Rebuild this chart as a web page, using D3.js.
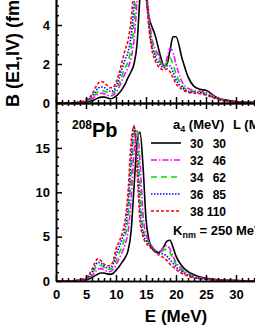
<!DOCTYPE html>
<html>
<head>
<meta charset="utf-8">
<script src="https://cdn.jsdelivr.net/npm/d3@7"></script>
<style>
body { margin: 0; background: #fff; }
svg { display: block; font-family: "Liberation Sans", Arial, sans-serif; font-weight: bold; }
</style>
</head>
<body>
<div id="chart"></div>
<script>
// excitation energy grid (MeV), shared by every curve
var energy = [0, 3, 5, 6, 6.5, 7, 7.5, 8, 8.5, 9,
              9.5, 10, 10.5, 11, 11.5, 12, 12.5, 13, 13.5, 14,
              14.5, 15, 15.5, 16, 16.5, 17, 17.5, 18, 18.5, 19,
              19.5, 20, 21, 22, 23, 24, 25, 27, 30, 33, 36];

// legend values
var a4Values = [30, 32, 34, 36, 38];
var lValues = [30, 46, 62, 85, 110];

// upper panel (nucleus label cut off)
var top30 = [0, 0.01, 0.05, 0.12, 0.18, 0.25, 0.3, 0.3, 0.27, 0.22,
             0.25, 0.35, 0.5, 0.7, 0.95, 1.3, 1.6, 2.0, 3.0, 5.5,
             7.5, 5.5, 4.4, 3.9, 3.5, 2.9, 2.3, 1.9, 2.0, 2.7,
             3.4, 3.4, 2.3, 1.35, 0.85, 0.7, 0.65, 0.25, 0.08, 0.03, 0.01];
var top32 = [0, 0.01, 0.08, 0.22, 0.33, 0.45, 0.5, 0.48, 0.42, 0.37,
             0.4, 0.55, 0.8, 1.15, 1.5, 1.8, 2.3, 3.2, 5.2, 7.5,
             7.8, 6.3, 4.5, 3.3, 2.8, 2.5, 2.1, 1.9, 2.3, 2.8,
             2.6, 2.0, 1.1, 0.75, 0.65, 0.6, 0.55, 0.24, 0.07, 0.02, 0.01];
var top34 = [0, 0.01, 0.1, 0.28, 0.42, 0.58, 0.65, 0.62, 0.55, 0.48,
             0.5, 0.7, 1.0, 1.4, 1.8, 2.1, 2.8, 4.0, 6.2, 7.8,
             7.6, 6.0, 4.2, 3.1, 2.6, 2.3, 2.0, 1.85, 2.1, 2.3,
             2.0, 1.5, 0.9, 0.65, 0.6, 0.56, 0.5, 0.22, 0.06, 0.02, 0.01];
var top36 = [0, 0.015, 0.12, 0.35, 0.55, 0.75, 0.82, 0.8, 0.7, 0.6,
             0.62, 0.85, 1.25, 1.75, 2.2, 2.6, 3.4, 5.0, 7.0, 7.8,
             7.3, 5.8, 4.0, 2.9, 2.4, 2.1, 1.9, 1.8, 1.9, 1.9,
             1.6, 1.2, 0.8, 0.6, 0.55, 0.52, 0.45, 0.2, 0.06, 0.02, 0.01];
var top38 = [0, 0.02, 0.15, 0.45, 0.75, 1.0, 1.1, 1.05, 0.9, 0.78,
             0.8, 1.05, 1.5, 2.1, 2.7, 3.2, 4.2, 6.0, 7.5, 7.8,
             7.0, 5.6, 3.8, 2.7, 2.2, 1.9, 1.75, 1.7, 1.75, 1.6,
             1.3, 1.0, 0.7, 0.55, 0.5, 0.48, 0.4, 0.18, 0.05, 0.02, 0.01];

// lower panel, 208Pb
var pb30 = [0, 0.02, 0.15, 0.4, 0.6, 0.8, 0.9, 0.9, 0.8, 0.75,
            0.85, 1.2, 1.6, 2.1, 2.6, 3.4, 5.5, 10.5, 15.5, 16.8,
            13, 7, 4.6, 3.7, 3.3, 3.2, 3.4, 3.9, 4.5, 4.6,
            3.8, 2.8, 1.7, 1.05, 0.7, 0.45, 0.3, 0.15, 0.06, 0.03, 0.01];
var pb32 = [0, 0.03, 0.2, 0.6, 1.0, 1.35, 1.4, 1.25, 1.1, 1.05,
            1.3, 1.8, 2.5, 3.2, 4.1, 5.5, 9.0, 14.5, 17.0, 13.5,
            7.5, 5.2, 4.5, 3.9, 3.5, 3.3, 3.4, 3.8, 4.0, 3.6,
            2.8, 2.1, 1.35, 0.85, 0.55, 0.36, 0.25, 0.12, 0.05, 0.02, 0.01];
var pb34 = [0, 0.03, 0.25, 0.8, 1.4, 1.75, 1.75, 1.5, 1.3, 1.3,
            1.6, 2.3, 3.1, 3.9, 5.0, 7.0, 11.5, 16.5, 17.2, 10.5,
            6.0, 4.8, 4.3, 3.8, 3.5, 3.3, 3.3, 3.5, 3.6, 3.2,
            2.5, 1.9, 1.2, 0.75, 0.48, 0.32, 0.22, 0.11, 0.05, 0.02, 0.01];
var pb36 = [0, 0.04, 0.3, 1.0, 1.7, 2.1, 2.0, 1.7, 1.5, 1.5,
            1.9, 2.9, 3.8, 4.7, 5.8, 8.5, 13.5, 17.4, 14.5, 8.0,
            5.4, 4.6, 4.1, 3.7, 3.4, 3.2, 3.1, 3.0, 2.8, 2.4,
            2.0, 1.6, 1.05, 0.65, 0.42, 0.28, 0.2, 0.1, 0.04, 0.02, 0.01];
var pb38 = [0, 0.05, 0.4, 1.3, 2.1, 2.5, 2.3, 1.9, 1.7, 1.75,
            2.2, 3.6, 4.4, 5.3, 6.8, 10, 15.5, 17.5, 12.5, 6.8,
            5.0, 4.3, 3.9, 3.6, 3.3, 3.0, 2.8, 2.6, 2.3, 1.9,
            1.6, 1.3, 0.85, 0.55, 0.35, 0.25, 0.18, 0.1, 0.04, 0.02, 0.01];

var topSeries = [top30, top32, top34, top36, top38];
var pbSeries = [pb30, pb32, pb34, pb36, pb38];

var colors = ["#000000", "#ff00ff", "#00e000", "#0000ff", "#ff0000"];
var dashes = [null, "6,2,1.5,2", "6,4", "1.5,1.5", "3,2"];

var width = 255, height = 330;

var svg = d3.select("#chart").append("svg")
    .attr("width", width)
    .attr("height", height);

var x = d3.scaleLinear().domain([0, 40]).range([56, 296]);
var yTop = d3.scaleLinear().domain([0, 9]).range([103, 103 - 9 * 19.5]);
var yPb = d3.scaleLinear().domain([0, 20]).range([281, 103.6]);

// clip regions for each panel
var defs = svg.append("defs");
defs.append("clipPath").attr("id", "clipTop").append("rect")
    .attr("x", 56).attr("y", -80).attr("width", 240).attr("height", 183);
defs.append("clipPath").attr("id", "clipPb").append("rect")
    .attr("x", 56).attr("y", 103).attr("width", 240).attr("height", 178);

function drawCurves(series, yScale, clipId) {
    var line = d3.line()
        .x(function(d) { return x(d[0]); })
        .y(function(d) { return yScale(d[1]); })
        .curve(d3.curveMonotoneX);
    var g = svg.append("g").attr("clip-path", "url(#" + clipId + ")");
    series.forEach(function(vals, i) {
        var pts = energy.map(function(e, k) { return [e, vals[k]]; });
        g.append("path")
            .attr("d", line(pts))
            .attr("fill", "none")
            .attr("stroke", colors[i])
            .attr("stroke-width", 1.6)
            .attr("stroke-dasharray", dashes[i]);
    });
}

drawCurves(topSeries, yTop, "clipTop");
drawCurves(pbSeries, yPb, "clipPb");

// axes
function styleAxis(g) {
    g.selectAll("path, line").attr("stroke", "#000").attr("stroke-width", 1.5);
    g.selectAll("text").attr("font-size", 13).attr("font-weight", "bold")
        .attr("font-family", "Liberation Sans, Arial, sans-serif").attr("fill", "#000");
}

var majorX = d3.range(0, 41, 5);
var minorX = d3.range(0, 41, 1).filter(function(v) { return v % 5 != 0; });

// bottom x axis
svg.append("g").attr("transform", "translate(0,281)")
    .call(d3.axisBottom(x).tickValues(majorX).tickSize(-6).tickSizeOuter(0).tickPadding(9))
    .call(styleAxis);
svg.append("g").attr("transform", "translate(0,281)")
    .call(d3.axisBottom(x).tickValues(minorX).tickSize(-3).tickSizeOuter(0).tickFormat(""))
    .call(styleAxis);

// middle shared axis, ticks on both sides
svg.append("g").attr("transform", "translate(0,103)")
    .call(d3.axisBottom(x).tickValues(majorX).tickSize(-6).tickSizeOuter(0).tickFormat(""))
    .call(styleAxis);
svg.append("g").attr("transform", "translate(0,103)")
    .call(d3.axisTop(x).tickValues(majorX).tickSize(-6).tickSizeOuter(0).tickFormat(""))
    .call(styleAxis);
svg.append("g").attr("transform", "translate(0,103)")
    .call(d3.axisBottom(x).tickValues(minorX).tickSize(-3).tickSizeOuter(0).tickFormat(""))
    .call(styleAxis);
svg.append("g").attr("transform", "translate(0,103)")
    .call(d3.axisTop(x).tickValues(minorX).tickSize(-3).tickSizeOuter(0).tickFormat(""))
    .call(styleAxis);

// left axis, upper panel
svg.append("g").attr("transform", "translate(56,0)")
    .call(d3.axisLeft(yTop).tickValues([0, 2, 4]).tickSize(-6).tickSizeOuter(0).tickPadding(6))
    .call(styleAxis);
svg.append("g").attr("transform", "translate(56,0)")
    .call(d3.axisLeft(yTop).tickValues([6, 8]).tickSize(-6).tickSizeOuter(0).tickFormat(""))
    .call(styleAxis);
svg.append("g").attr("transform", "translate(56,0)")
    .call(d3.axisLeft(yTop).tickValues(d3.range(0.5, 9, 0.5).filter(function(v) { return v % 2 != 0; }))
        .tickSize(-3).tickSizeOuter(0).tickFormat(""))
    .call(styleAxis);

// left axis, lower panel
svg.append("g").attr("transform", "translate(56,0)")
    .call(d3.axisLeft(yPb).tickValues([0, 5, 10, 15]).tickSize(-6).tickSizeOuter(0).tickPadding(6))
    .call(styleAxis);
svg.append("g").attr("transform", "translate(56,0)")
    .call(d3.axisLeft(yPb).tickValues(d3.range(1, 20, 1).filter(function(v) { return v % 5 != 0; }))
        .tickSize(-3).tickSizeOuter(0).tickFormat(""))
    .call(styleAxis);

// axis titles
svg.append("text")
    .attr("transform", "translate(19,107) rotate(-90)")
    .attr("font-size", 18)
    .text("B (E1,IV) (fm\u00B2/MeV)");

svg.append("text")
    .attr("x", 176).attr("y", 322)
    .attr("text-anchor", "middle")
    .attr("font-size", 17)
    .text("E (MeV)");

// nucleus label
var pbLabel = svg.append("text").attr("x", 72).attr("y", 137);
pbLabel.append("tspan").attr("font-size", 12).attr("dy", -8).text("208");
pbLabel.append("tspan").attr("font-size", 20).attr("dy", 8).text("Pb");

// legend
var legend = svg.append("g");
var hdr = legend.append("text").attr("x", 173).attr("y", 129).attr("font-size", 13);
hdr.append("tspan").text("a");
hdr.append("tspan").attr("font-size", 9).attr("dy", 3).text("4");
hdr.append("tspan").attr("dy", -3).text(" (MeV)");
legend.append("text").attr("x", 233).attr("y", 129).attr("font-size", 13).text("L (MeV)");

a4Values.forEach(function(a, i) {
    var yy = 143 + 17 * i;
    legend.append("line")
        .attr("x1", 151).attr("x2", 181).attr("y1", yy).attr("y2", yy)
        .attr("stroke", colors[i]).attr("stroke-width", 1.6)
        .attr("stroke-dasharray", dashes[i]);
    legend.append("text").attr("x", 190).attr("y", yy + 5).attr("font-size", 12).text(a);
    legend.append("text").attr("x", 226).attr("y", yy + 5).attr("font-size", 12)
        .attr("text-anchor", "end").text(lValues[i]);
});

var kt = legend.append("text").attr("x", 173).attr("y", 235).attr("font-size", 13);
kt.append("tspan").text("K");
kt.append("tspan").attr("font-size", 9).attr("dy", 3).text("nm");
kt.append("tspan").attr("dy", -3).text(" = 250 MeV");
</script>
</body>
</html>
